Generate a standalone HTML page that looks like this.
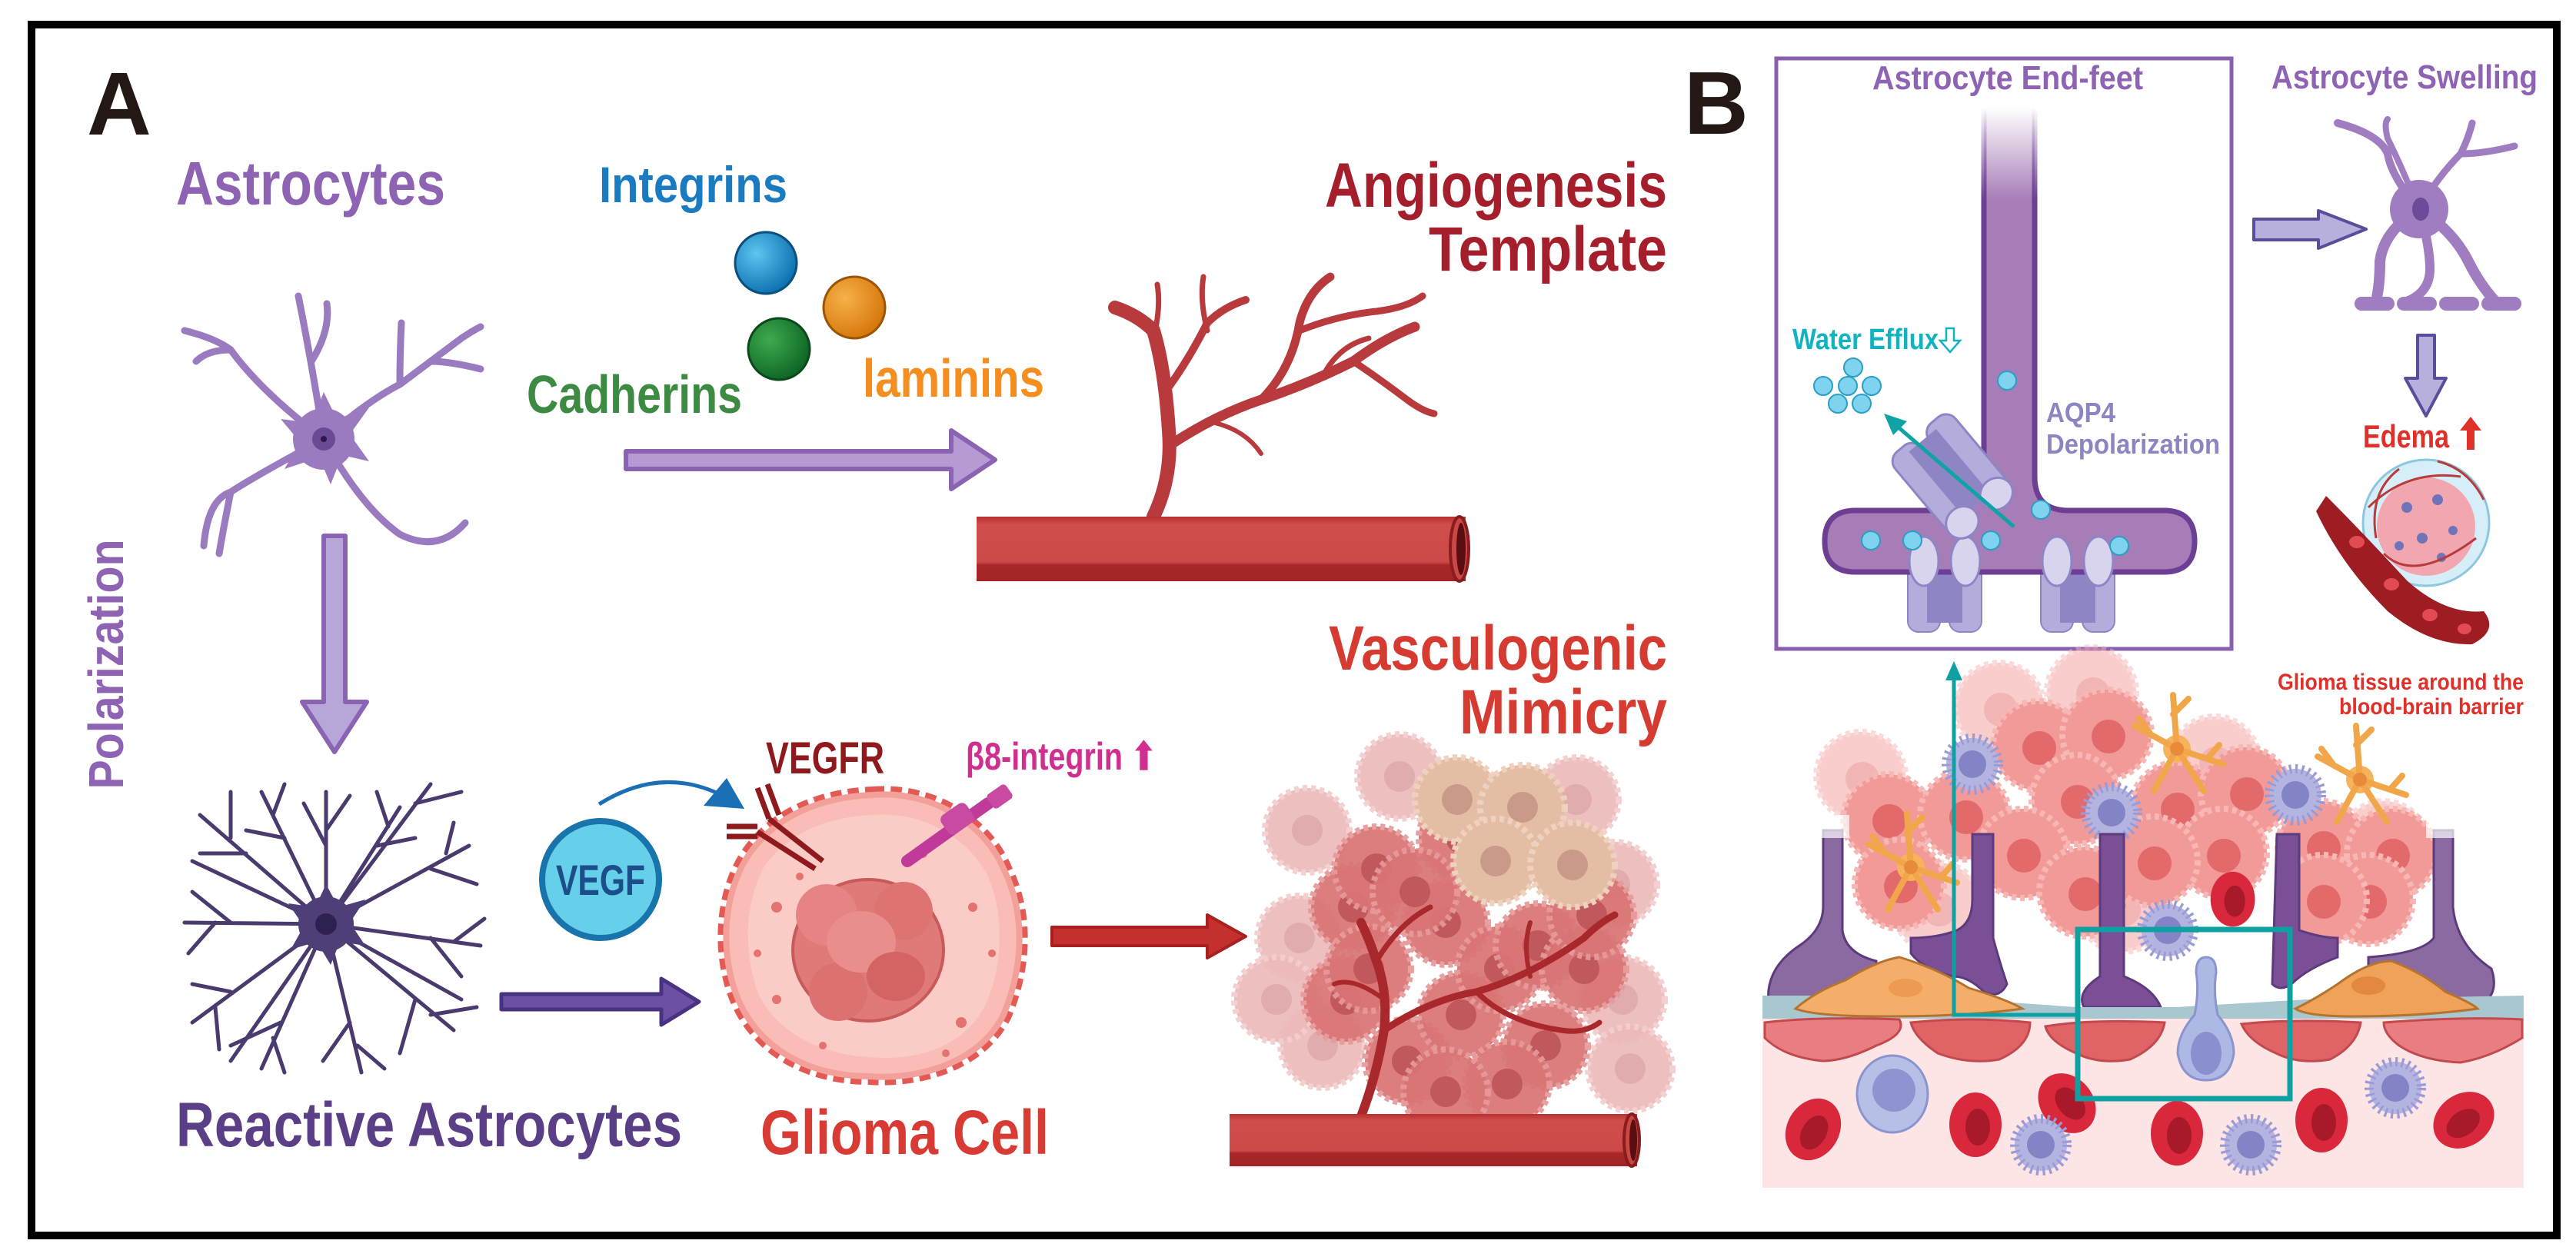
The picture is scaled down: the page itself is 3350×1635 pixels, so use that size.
<!DOCTYPE html>
<html><head><meta charset="utf-8"><style>
html,body{margin:0;padding:0;background:#fff;}
svg{display:block;}
text{font-family:"Liberation Sans Narrow","Liberation Sans",sans-serif;font-weight:bold;}
</style></head><body>
<svg width="3350" height="1635" viewBox="0 0 3350 1635" xmlns="http://www.w3.org/2000/svg">
<defs>
<linearGradient id="vessel" x1="0" y1="0" x2="0" y2="1">
<stop offset="0" stop-color="#b7302f"/><stop offset="0.12" stop-color="#cf4d4b"/><stop offset="0.7" stop-color="#cc4a48"/><stop offset="0.75" stop-color="#a8282a"/><stop offset="1" stop-color="#a32426"/>
</linearGradient>
<linearGradient id="stemfill" gradientUnits="userSpaceOnUse" x1="0" y1="140" x2="0" y2="260">
<stop offset="0" stop-color="#a77db8" stop-opacity="0"/><stop offset="1" stop-color="#a77db8"/>
</linearGradient>
<linearGradient id="stemstroke" gradientUnits="userSpaceOnUse" x1="0" y1="140" x2="0" y2="260">
<stop offset="0" stop-color="#6c3f95" stop-opacity="0"/><stop offset="1" stop-color="#6c3f95"/>
</linearGradient>
<radialGradient id="gb" cx="0.35" cy="0.35" r="0.7"><stop offset="0" stop-color="#5ec4f0"/><stop offset="1" stop-color="#0a6fae"/></radialGradient>
<radialGradient id="go" cx="0.35" cy="0.35" r="0.7"><stop offset="0" stop-color="#f7b04a"/><stop offset="1" stop-color="#d5760a"/></radialGradient>
<radialGradient id="gg" cx="0.35" cy="0.35" r="0.7"><stop offset="0" stop-color="#3eaa4e"/><stop offset="1" stop-color="#0d6424"/></radialGradient>
<g id="gcell"><circle r="58" fill="#f29a98" stroke="#f6b7b5" stroke-width="8" stroke-dasharray="6 5"/><circle r="22" cx="2" cy="3" fill="#e36a6a"/></g>
<g id="gcellb"><circle r="55" fill="#e4bea4" stroke="#eed2bf" stroke-width="8" stroke-dasharray="6 5"/><circle r="20" fill="#c99a88"/></g>
<g id="mcell"><circle r="55" fill="#d97474" stroke="#e79a9a" stroke-width="8" stroke-dasharray="6 5" opacity="0.92"/><circle r="20" fill="#c0585c"/></g>
<g id="spiky"><circle r="34" fill="#b3b4e0" stroke="#9a9bd6" stroke-width="12" stroke-dasharray="3 5"/><circle r="18" fill="#8284c6"/></g>
<g id="rbc"><ellipse rx="34" ry="42" fill="#d9283c"/><ellipse rx="16" ry="24" cx="3" cy="3" fill="#a81a2a"/></g>
<g id="ast"><circle r="18" fill="#f7b35c"/><path d="M0,0 L-5,-70 M-5,-45 L15,-65 M0,0 L60,20 M40,12 L55,-5 M0,0 L-55,-30 M-35,-20 L-50,-40 M0,0 L-30,55 M0,0 L35,55" stroke="#f2a64a" stroke-width="8" fill="none" stroke-linecap="round"/><circle r="9" fill="#e88a3a"/></g>
</defs>

<rect x="0" y="0" width="3350" height="1635" fill="#fff"/>
<rect x="41" y="32" width="3284" height="1575" fill="none" stroke="#000" stroke-width="10"/>

<!-- ================= PANEL A ================= -->
<text x="113" y="175" font-size="116" fill="#231815" style="font-family:'Liberation Sans',sans-serif">A</text>
<text x="229" y="266" font-size="80" fill="#8f63b3" textLength="350" lengthAdjust="spacingAndGlyphs">Astrocytes</text>
<text x="779" y="263" font-size="66" fill="#1b7bc0" textLength="245" lengthAdjust="spacingAndGlyphs">Integrins</text>
<text x="685" y="537" font-size="70" fill="#3d8a43" textLength="280" lengthAdjust="spacingAndGlyphs">Cadherins</text>
<text x="1122" y="516" font-size="70" fill="#f58d1f" textLength="236" lengthAdjust="spacingAndGlyphs">laminins</text>
<circle cx="996" cy="342" r="40" fill="url(#gb)" stroke="#0b4f7c" stroke-width="3"/>
<circle cx="1111" cy="400" r="40" fill="url(#go)" stroke="#9a5505" stroke-width="3"/>
<circle cx="1013" cy="454" r="40" fill="url(#gg)" stroke="#0a4a1a" stroke-width="3"/>

<text x="2168" y="269" font-size="82" fill="#a41e2c" text-anchor="end" textLength="445" lengthAdjust="spacingAndGlyphs">Angiogenesis</text>
<text x="2168" y="352" font-size="82" fill="#a41e2c" text-anchor="end" textLength="310" lengthAdjust="spacingAndGlyphs">Template</text>

<path d="M814,587 L1237,587 L1237,560 L1294,598 L1237,636 L1237,610 L814,610 Z" fill="#b59ad3" stroke="#8a64b2" stroke-width="6" stroke-linejoin="round"/>

<!-- astrocyte -->
<g stroke="#9b7bc0" fill="none" stroke-linecap="round">
<path d="M421,571 Q405,470 388,385 M405,470 Q430,430 425,395 M421,571 Q340,510 300,455 Q280,440 240,430 M300,455 Q270,455 255,470 M421,571 Q480,520 520,500 Q560,470 600,440 Q615,430 625,425 M560,470 Q585,470 625,480 M520,500 Q520,460 522,420 M421,571 Q330,620 300,640 Q270,650 265,710 M300,640 Q290,690 285,720 M421,571 Q470,660 520,695 Q570,720 605,680" stroke-width="9"/>
</g>
<path d="M421,510 L438,545 L480,530 L455,565 L480,600 L445,592 L430,630 L415,595 L370,610 L390,575 L365,545 L405,550 Z" fill="#9b7bc0"/>
<circle cx="421" cy="571" r="40" fill="#9b7bc0"/>
<circle cx="421" cy="571" r="15" fill="#6a4a95"/><circle cx="421" cy="571" r="4" fill="#2a1a45"/>

<path d="M421,697 L449,697 L449,913 L477,913 L435,978 L393,913 L421,913 Z" fill="#b7a6d8" stroke="#8a64b2" stroke-width="6" stroke-linejoin="round"/>

<text transform="translate(160,864) rotate(-90)" font-size="64" fill="#8f63b3" text-anchor="middle" textLength="325" lengthAdjust="spacingAndGlyphs" style="font-family:'Liberation Sans',sans-serif">Polarization</text>

<!-- reactive astrocyte -->
<g stroke="#4a3a6e" fill="none" stroke-width="5" stroke-linecap="round">
<path d="M424,1202 L424,1030 M424,1100 L395,1045 M424,1080 L455,1035"/>
<path d="M424,1202 L520,1050 M490,1100 L540,1090 M505,1075 L490,1030"/>
<path d="M424,1202 L610,1100 M560,1130 L620,1150 M580,1110 L590,1070"/>
<path d="M424,1202 L625,1230 M560,1220 L600,1270 M590,1225 L630,1195"/>
<path d="M424,1202 L590,1340 M540,1300 L520,1370 M560,1320 L620,1310"/>
<path d="M424,1202 L470,1395 M455,1330 L420,1380 M465,1360 L500,1390"/>
<path d="M424,1202 L340,1390 M365,1330 L300,1360 M355,1350 L370,1395"/>
<path d="M424,1202 L250,1330 M300,1290 L250,1280 M280,1310 L285,1365"/>
<path d="M424,1202 L240,1200 M300,1200 L250,1160 M280,1200 L245,1240"/>
<path d="M424,1202 L260,1060 M320,1110 L260,1110 M300,1090 L300,1030"/>
<path d="M424,1202 L340,1030 M370,1090 L320,1080 M355,1060 L370,1020"/>
<path d="M424,1202 L560,1020 M540,1045 L600,1030"/>
<path d="M424,1202 L600,1300 M424,1202 L250,1120 M424,1202 L300,1380"/>
</g>
<path d="M424,1150 L440,1180 L475,1170 L455,1200 L475,1230 L442,1225 L430,1255 L412,1225 L378,1235 L395,1205 L375,1175 L410,1180 Z" fill="#4f3f78"/>
<circle cx="424" cy="1202" r="36" fill="#4f3f78"/>
<circle cx="424" cy="1202" r="14" fill="#2d2150"/>

<text x="229" y="1491" font-size="82" fill="#5a3e86" textLength="658" lengthAdjust="spacingAndGlyphs">Reactive Astrocytes</text>

<path d="M652,1293 L860,1293 L860,1273 L909,1303 L860,1333 L860,1313 L652,1313 Z" fill="#6b50a3" stroke="#4a3282" stroke-width="5" stroke-linejoin="round"/>

<circle cx="781" cy="1144" r="76" fill="#66cfe9" stroke="#1874aa" stroke-width="8"/>
<text x="781" y="1164" font-size="56" fill="#1c4f8a" text-anchor="middle" textLength="116" lengthAdjust="spacingAndGlyphs">VEGF</text>
<path d="M779,1046 Q860,995 940,1035" fill="none" stroke="#1b6fb5" stroke-width="5"/>
<path d="M915,1048 L968,1052 L945,1012 Z" fill="#1b6fb5"/>

<text x="996" y="1006" font-size="58" fill="#8e1a1e" textLength="154" lengthAdjust="spacingAndGlyphs">VEGFR</text>
<text x="1256" y="1001" font-size="50" fill="#d02f8f" textLength="248" lengthAdjust="spacingAndGlyphs">β8-integrin ⬆</text>

<!-- glioma cell -->
<path d="M1136,1034 C1210,1028 1280,1070 1305,1130 C1335,1190 1330,1260 1305,1320 C1275,1380 1200,1405 1130,1400 C1060,1400 990,1370 960,1300 C935,1240 940,1160 975,1110 C1010,1060 1070,1036 1136,1034 Z" fill="#f7aaa6" stroke="#e35a55" stroke-width="22" stroke-dasharray="14 8" stroke-linejoin="round"/>
<path d="M1136,1034 C1210,1028 1280,1070 1305,1130 C1335,1190 1330,1260 1305,1320 C1275,1380 1200,1405 1130,1400 C1060,1400 990,1370 960,1300 C935,1240 940,1160 975,1110 C1010,1060 1070,1036 1136,1034 Z" fill="#f9bcb7" stroke="#f3a09b" stroke-width="8"/>
<path d="M1136,1060 C1200,1055 1260,1090 1285,1140 C1310,1200 1300,1270 1280,1310 C1250,1365 1190,1380 1130,1375 C1070,1372 1010,1345 985,1290 C965,1230 970,1170 995,1125 C1030,1080 1080,1062 1136,1060 Z" fill="#fbcbc6"/>
<ellipse cx="1129" cy="1236" rx="98" ry="92" fill="#e07a78" stroke="#c85a5a" stroke-width="4"/>
<circle cx="1075" cy="1190" r="40" fill="#e58482"/><circle cx="1175" cy="1185" r="38" fill="#de7472"/><circle cx="1090" cy="1290" r="38" fill="#dc7270"/>
<ellipse cx="1120" cy="1225" rx="45" ry="40" fill="#ea8e8c"/>
<ellipse cx="1165" cy="1270" rx="38" ry="32" fill="#d46464"/>
<g fill="#e47270">
<circle cx="1010" cy="1180" r="7"/><circle cx="1040" cy="1140" r="5"/><circle cx="1265" cy="1180" r="6"/><circle cx="1250" cy="1330" r="7"/><circle cx="1010" cy="1300" r="6"/><circle cx="1070" cy="1360" r="5"/><circle cx="1200" cy="1110" r="6"/><circle cx="1290" cy="1240" r="5"/><circle cx="985" cy="1240" r="5"/><circle cx="1230" cy="1370" r="5"/>
</g>
<g stroke="#8e1a1e" stroke-width="7" fill="none">
<path d="M985,1025 L1000,1065 M998,1020 L1013,1060"/>
<path d="M945,1075 L985,1075 M945,1088 L985,1088"/>
<path d="M1000,1065 L1070,1120 M985,1082 L1060,1130"/>
</g>
<g stroke="#bf3a99" stroke-width="16" stroke-linecap="round"><path d="M1180,1120 L1285,1045"/></g>
<rect x="1225" y="1050" width="40" height="30" rx="8" fill="#c94aa2" transform="rotate(-35 1245 1065)"/>
<rect x="1285" y="1025" width="30" height="22" rx="5" fill="#c94aa2" transform="rotate(-35 1300 1036)"/>

<text x="989" y="1501" font-size="82" fill="#d83b33" textLength="375" lengthAdjust="spacingAndGlyphs">Glioma Cell</text>

<path d="M1368,1206 L1570,1206 L1570,1190 L1620,1218 L1570,1246 L1570,1230 L1368,1230 Z" fill="#c4302d" stroke="#a8201f" stroke-width="4" stroke-linejoin="round"/>

<text x="2168" y="871" font-size="82" fill="#d63b32" text-anchor="end" textLength="440" lengthAdjust="spacingAndGlyphs">Vasculogenic</text>
<text x="2168" y="954" font-size="82" fill="#d63b32" text-anchor="end" textLength="270" lengthAdjust="spacingAndGlyphs">Mimicry</text>

<g stroke="#b83a3c" fill="none" stroke-linecap="round">
<path d="M1500,672 Q1525,620 1520,560 Q1515,480 1500,430 Q1480,410 1450,400" stroke-width="18"/>
<path d="M1520,580 Q1580,540 1640,520 Q1700,500 1760,470 Q1800,440 1840,425" stroke-width="13"/>
<path d="M1640,520 Q1680,480 1690,420 Q1700,380 1730,360" stroke-width="11"/>
<path d="M1690,430 Q1740,410 1790,405 Q1830,400 1850,385" stroke-width="9"/>
<path d="M1760,470 Q1790,490 1830,520 Q1850,535 1865,538" stroke-width="9"/>
<path d="M1720,490 Q1740,450 1780,440" stroke-width="7"/>
<path d="M1515,510 Q1545,470 1570,420 Q1590,400 1620,390" stroke-width="10"/>
<path d="M1570,430 Q1560,390 1565,360" stroke-width="7"/>
<path d="M1500,440 Q1510,400 1505,370" stroke-width="7"/>
<path d="M1580,550 Q1620,560 1640,590" stroke-width="6"/>
</g>
<rect x="1270" y="672" width="636" height="84" fill="url(#vessel)"/>
<ellipse cx="1898" cy="714" rx="12" ry="42" fill="#c94846" stroke="#8a1c1e" stroke-width="4"/>
<ellipse cx="1900" cy="714" rx="6" ry="34" fill="#5a0e12"/>

<!-- mimicry cluster -->
<g opacity="0.5">
<use href="#mcell" x="1700" y="1080"/><use href="#mcell" x="1690" y="1220"/><use href="#mcell" x="1720" y="1360"/><use href="#mcell" x="2100" y="1150"/><use href="#mcell" x="2110" y="1300"/><use href="#mcell" x="1820" y="1010"/><use href="#mcell" x="2050" y="1040"/><use href="#mcell" x="1660" y="1300"/><use href="#mcell" x="2120" y="1390"/>
</g>
<use href="#mcell" x="1760" y="1180"/><use href="#mcell" x="1790" y="1130"/><use href="#mcell" x="1750" y="1300"/><use href="#mcell" x="1780" y="1260"/><use href="#mcell" x="1830" y="1380"/><use href="#mcell" x="1900" y="1090"/><use href="#mcell" x="1880" y="1200"/><use href="#mcell" x="1840" y="1160"/><use href="#mcell" x="1900" y="1320"/><use href="#mcell" x="1950" y="1260"/><use href="#mcell" x="2000" y="1230"/><use href="#mcell" x="2010" y="1360"/><use href="#mcell" x="2060" y="1260"/><use href="#mcell" x="1960" y="1410"/><use href="#mcell" x="2070" y="1190"/><use href="#mcell" x="1880" y="1420"/>
<use href="#gcellb" x="1895" y="1040"/><use href="#gcellb" x="1980" y="1050"/><use href="#gcellb" x="1945" y="1120"/><use href="#gcellb" x="2045" y="1125"/>
<g stroke="#a8282c" fill="none" stroke-linecap="round">
<path d="M1770,1452 Q1790,1400 1800,1340 Q1805,1290 1790,1250 Q1780,1220 1770,1200" stroke-width="12"/>
<path d="M1800,1340 Q1860,1300 1920,1290 Q1990,1270 2060,1220 Q2080,1200 2100,1190" stroke-width="9"/>
<path d="M1920,1290 Q1960,1330 2030,1340 Q2060,1345 2080,1330" stroke-width="7"/>
<path d="M1790,1250 Q1820,1200 1860,1180" stroke-width="7"/>
<path d="M1800,1300 Q1760,1270 1735,1280" stroke-width="6"/>
<path d="M1990,1270 Q1980,1230 1990,1200" stroke-width="6"/>
</g>
<rect x="1599" y="1449" width="530" height="68" fill="url(#vessel)"/>
<ellipse cx="2122" cy="1483" rx="10" ry="34" fill="#c94846" stroke="#8a1c1e" stroke-width="4"/>
<ellipse cx="2124" cy="1483" rx="5" ry="27" fill="#5a0e12"/>

<!-- ================= PANEL B ================= -->
<text x="2190" y="174" font-size="116" fill="#231815" style="font-family:'Liberation Sans',sans-serif">B</text>
<rect x="2310" y="76" width="592" height="768" fill="none" stroke="#8a5fb0" stroke-width="5"/>
<text x="2611" y="116" font-size="44" fill="#8f63b3" text-anchor="middle" textLength="352" lengthAdjust="spacingAndGlyphs">Astrocyte End-feet</text>
<text x="3127" y="115" font-size="44" fill="#8f63b3" text-anchor="middle" textLength="346" lengthAdjust="spacingAndGlyphs">Astrocyte Swelling</text>

<g>
<rect x="2481" y="722" width="42" height="100" rx="14" fill="#b4addb" stroke="#8e86c4" stroke-width="2"/>
<rect x="2535" y="722" width="42" height="100" rx="14" fill="#b4addb" stroke="#8e86c4" stroke-width="2"/>
<rect x="2506" y="725" width="46" height="85" fill="#8e86c4"/>
<rect x="2654" y="722" width="42" height="100" rx="14" fill="#b4addb" stroke="#8e86c4" stroke-width="2"/>
<rect x="2708" y="722" width="42" height="100" rx="14" fill="#b4addb" stroke="#8e86c4" stroke-width="2"/>
<rect x="2679" y="725" width="46" height="85" fill="#8e86c4"/>
</g>
<path d="M2580,140 L2580,620 Q2580,664 2536,664 L2413,664 Q2373,664 2373,704 Q2373,744 2413,744 L2814,744 Q2854,744 2854,704 Q2854,664 2814,664 L2690,664 Q2646,664 2646,620 L2646,140" fill="url(#stemfill)" stroke="url(#stemstroke)" stroke-width="7"/>
<ellipse cx="2502" cy="730" rx="19" ry="32" fill="#d8d4ee" stroke="#8e86c4" stroke-width="3"/>
<ellipse cx="2556" cy="730" rx="19" ry="32" fill="#d8d4ee" stroke="#8e86c4" stroke-width="3"/>
<ellipse cx="2675" cy="730" rx="19" ry="32" fill="#d8d4ee" stroke="#8e86c4" stroke-width="3"/>
<ellipse cx="2729" cy="730" rx="19" ry="32" fill="#d8d4ee" stroke="#8e86c4" stroke-width="3"/>
<g transform="rotate(-40 2545 620)">
<rect x="2490" y="545" width="44" height="130" rx="16" fill="#b4addb" stroke="#8e86c4" stroke-width="3"/>
<rect x="2548" y="545" width="44" height="130" rx="16" fill="#b4addb" stroke="#8e86c4" stroke-width="3"/>
<rect x="2518" y="555" width="46" height="110" fill="#8e86c4"/>
<ellipse cx="2512" cy="670" rx="22" ry="20" fill="#d8d4ee" stroke="#8e86c4" stroke-width="3"/>
<ellipse cx="2570" cy="670" rx="22" ry="20" fill="#d8d4ee" stroke="#8e86c4" stroke-width="3"/>
</g>
<g fill="#7fd3ee" stroke="#2a9fc4" stroke-width="2">
<circle cx="2610" cy="495" r="12"/><circle cx="2654" cy="663" r="12"/><circle cx="2433" cy="703" r="12"/><circle cx="2487" cy="703" r="12"/><circle cx="2589" cy="703" r="12"/><circle cx="2756" cy="710" r="12"/>
<circle cx="2410" cy="478" r="12"/><circle cx="2371" cy="502" r="12"/><circle cx="2403" cy="502" r="12"/><circle cx="2434" cy="502" r="12"/><circle cx="2390" cy="525" r="12"/><circle cx="2421" cy="525" r="12"/>
</g>
<text x="2331" y="454" font-size="38" fill="#12b3c0" textLength="190" lengthAdjust="spacingAndGlyphs">Water Efflux</text>
<path d="M2531,427 L2541,427 L2541,443 L2549,443 L2536,458 L2523,443 L2531,443 Z" fill="none" stroke="#12b3c0" stroke-width="2.5"/>
<path d="M2619,685 L2462,550" stroke="#10a3a6" stroke-width="5"/>
<path d="M2450,538 L2480,548 L2462,566 Z" fill="#10a3a6"/>
<text x="2661" y="549" font-size="36" fill="#8b86c2" textLength="90" lengthAdjust="spacingAndGlyphs">AQP4</text>
<text x="2661" y="590" font-size="36" fill="#8b86c2" textLength="226" lengthAdjust="spacingAndGlyphs">Depolarization</text>

<path d="M2931,285 L3015,285 L3015,274 L3077,298 L3015,323 L3015,312 L2931,312 Z" fill="#b7b0dc" stroke="#5c4c9a" stroke-width="4" stroke-linejoin="round"/>
<g stroke="#a07cc0" fill="none" stroke-linecap="round">
<path d="M3146,272 Q3110,230 3105,200 Q3095,175 3040,160" stroke-width="10"/>
<path d="M3146,272 Q3120,210 3105,180 Q3100,160 3105,155" stroke-width="8"/>
<path d="M3146,272 Q3170,230 3200,200 Q3210,180 3215,160 M3200,200 Q3230,200 3270,190" stroke-width="9"/>
<path d="M3146,272 Q3100,300 3095,340 Q3095,370 3090,392" stroke-width="14"/>
<path d="M3146,272 Q3160,320 3160,350 Q3160,380 3130,392" stroke-width="12"/>
<path d="M3146,272 Q3190,300 3210,340 Q3225,370 3245,392" stroke-width="14"/>
</g>
<circle cx="3146" cy="272" r="38" fill="#a07cc0"/>
<ellipse cx="3148" cy="272" rx="11" ry="15" fill="#6d4a9a"/>
<g fill="#a07cc0"><rect x="3062" y="386" width="52" height="18" rx="9"/><rect x="3117" y="386" width="52" height="18" rx="9"/><rect x="3172" y="386" width="52" height="18" rx="9"/><rect x="3227" y="386" width="52" height="18" rx="9"/></g>
<path d="M3144,436 L3166,436 L3166,492 L3181,492 L3155,541 L3128,492 L3144,492 Z" fill="#b7b0dc" stroke="#5c4c9a" stroke-width="4" stroke-linejoin="round"/>
<text x="3073" y="582" font-size="42" fill="#e0302a" textLength="112" lengthAdjust="spacingAndGlyphs">Edema</text>
<path d="M3208,585 L3208,560 L3199,560 L3213,542 L3227,560 L3218,560 L3218,585 Z" fill="#e0302a"/>
<circle cx="3155" cy="680" r="82" fill="#d6eef7" stroke="#8cc6e0" stroke-width="3"/>
<circle cx="3155" cy="685" r="64" fill="#f2a7b0"/>
<g fill="#6f74b8"><circle cx="3130" cy="660" r="7"/><circle cx="3170" cy="650" r="7"/><circle cx="3150" cy="700" r="7"/><circle cx="3190" cy="690" r="6"/><circle cx="3120" cy="710" r="6"/><circle cx="3175" cy="725" r="6"/></g>
<g stroke="#b83a3c" stroke-width="3" fill="none"><path d="M3080,660 Q3130,610 3200,620 M3100,720 Q3140,760 3220,700 M3090,700 Q3080,640 3120,610 M3230,650 Q3210,610 3170,600"/></g>
<path d="M3025,645 Q3070,690 3130,755 Q3180,800 3230,795 Q3250,820 3215,838 Q3160,840 3105,795 Q3045,735 3012,665 Z" fill="#9d1d22"/>
<g fill="#e34b54"><ellipse cx="3065" cy="705" rx="10" ry="8"/><ellipse cx="3110" cy="760" rx="10" ry="8"/><ellipse cx="3160" cy="800" rx="10" ry="8"/><ellipse cx="3205" cy="818" rx="9" ry="7"/></g>

<!-- bottom tissue -->
<rect x="2292" y="1320" width="990" height="225" fill="#fde5e5"/>
<g opacity="0.5"><use href="#gcell" x="2420" y="1010"/><use href="#gcell" x="2600" y="920"/><use href="#gcell" x="2720" y="900"/><use href="#gcell" x="2880" y="990"/><use href="#gcell" x="3100" y="1100"/><use href="#gcell" x="2520" y="1180"/><use href="#gcell" x="2760" y="1180"/></g>
<use href="#gcell" x="2455" y="1065"/><use href="#gcell" x="2555" y="1060"/><use href="#gcell" x="2470" y="1150"/>
<use href="#gcell" x="2650" y="970"/><use href="#gcell" x="2740" y="955"/><use href="#gcell" x="2700" y="1040"/><use href="#gcell" x="2630" y="1110"/><use href="#gcell" x="2710" y="1160"/>
<use href="#gcell" x="2830" y="1050"/><use href="#gcell" x="2920" y="1030"/><use href="#gcell" x="2890" y="1110"/><use href="#gcell" x="2800" y="1120"/>
<use href="#gcell" x="3020" y="1100"/><use href="#gcell" x="3110" y="1110"/><use href="#gcell" x="3080" y="1170"/><use href="#gcell" x="3020" y="1170"/>
<use href="#ast" x="2831" y="974"/><use href="#ast" x="3069" y="1014"/><use href="#ast" x="2485" y="1128"/>
<use href="#spiky" x="2565" y="994"/><use href="#spiky" x="2746" y="1057"/><use href="#spiky" x="2985" y="1034"/>
<g fill="#7b4f96" stroke="#5d3a7c" stroke-width="3">
<path d="M2371,1080 L2396,1080 L2396,1210 Q2400,1240 2440,1250 L2440,1280 Q2400,1300 2330,1305 L2300,1305 Q2295,1260 2340,1230 Q2370,1210 2371,1180 Z" fill="#8a6aa0"/>
<path d="M2565,1085 L2592,1085 L2592,1220 Q2600,1250 2610,1280 Q2600,1300 2580,1290 Q2560,1270 2540,1270 Q2500,1260 2485,1240 L2485,1220 Q2520,1220 2545,1210 Q2565,1200 2565,1170 Z"/>
<path d="M2731,1085 L2762,1085 L2762,1270 Q2800,1285 2810,1310 L2710,1310 Q2700,1290 2731,1270 Z"/>
<path d="M2961,1085 L2990,1085 L2990,1210 Q3020,1220 3040,1220 L3040,1245 Q3000,1260 2980,1280 Q2965,1290 2955,1280 Z"/>
<path d="M3165,1080 L3190,1080 L3190,1180 Q3195,1230 3240,1260 Q3250,1290 3230,1305 Q3180,1300 3150,1290 L3080,1260 L3080,1245 Q3150,1240 3165,1220 Z" fill="#8a6aa0"/>
</g>
<rect x="2360" y="1060" width="45" height="30" fill="#fff" opacity="0.7"/><rect x="3155" y="1060" width="45" height="30" fill="#fff" opacity="0.7"/>
<path d="M2292,1295 L2360,1295 Q2460,1290 2560,1300 L2700,1310 L2830,1310 L3000,1300 L3282,1295 L3282,1325 L2292,1325 Z" fill="#a9c7cf"/>
<path d="M2335,1312 Q2360,1290 2400,1275 Q2440,1250 2470,1245 Q2520,1260 2560,1285 Q2610,1300 2630,1312 Q2560,1322 2450,1322 Q2360,1322 2335,1312 Z" fill="#f5ae6a" stroke="#b4742f" stroke-width="3"/>
<ellipse cx="2478" cy="1285" rx="22" ry="12" fill="#ed9a52"/>
<path d="M2985,1312 Q3010,1300 3040,1280 Q3080,1250 3110,1250 Q3150,1265 3180,1290 Q3215,1305 3222,1312 Q3150,1322 3060,1322 Q3000,1322 2985,1312 Z" fill="#f0a259" stroke="#b4742f" stroke-width="3"/>
<ellipse cx="3080" cy="1282" rx="22" ry="12" fill="#e38840"/>
<g fill="#e97e80" stroke="#c24a4e" stroke-width="3">
<path d="M2295,1330 Q2360,1322 2470,1326 Q2480,1345 2440,1360 Q2400,1380 2370,1380 Q2320,1375 2295,1350 Z"/>
<path d="M2485,1330 Q2560,1322 2640,1330 Q2640,1360 2600,1378 Q2560,1385 2520,1370 Q2490,1350 2485,1330 Z" fill="#e06466"/>
<path d="M2660,1335 Q2720,1325 2815,1330 Q2810,1360 2770,1378 Q2730,1385 2700,1370 Q2665,1355 2660,1335 Z" fill="#e06466"/>
<path d="M2915,1332 Q2980,1325 3070,1330 Q3065,1360 3030,1378 Q2990,1385 2960,1370 Q2925,1355 2915,1332 Z" fill="#e06466"/>
<path d="M3100,1330 Q3200,1322 3280,1326 L3280,1350 Q3240,1375 3200,1382 Q3150,1380 3120,1360 Q3100,1345 3100,1330 Z"/>
</g>
<path d="M2869,1245 Q2882,1245 2882,1265 Q2878,1290 2884,1320 Q2905,1345 2905,1370 Q2900,1405 2869,1405 Q2838,1405 2832,1370 Q2832,1345 2854,1320 Q2860,1290 2856,1265 Q2856,1245 2869,1245 Z" fill="#aeb8e4" stroke="#8a94cf" stroke-width="3"/>
<ellipse cx="2869" cy="1370" rx="20" ry="28" fill="#8a8fcf"/>
<ellipse cx="2461" cy="1423" rx="46" ry="50" fill="#b6c0e6" stroke="#8a94cf" stroke-width="3"/>
<circle cx="2463" cy="1418" r="28" fill="#8f93cf"/>
<use href="#rbc" x="2358" y="1469" transform="rotate(30 2358 1469)"/>
<use href="#rbc" x="2569" y="1463"/>
<use href="#rbc" x="2688" y="1435" transform="rotate(-40 2688 1435)"/>
<use href="#rbc" x="2831" y="1474"/>
<use href="#rbc" x="3019" y="1457"/>
<use href="#rbc" x="3204" y="1457" transform="rotate(55 3204 1457)"/>
<use href="#rbc" x="2904" y="1170" transform="scale(0.85) translate(512 206)"/>
<use href="#spiky" x="2654" y="1489"/><use href="#spiky" x="2927" y="1489"/><use href="#spiky" x="3115" y="1415"/><use href="#spiky" x="2819" y="1210"/>
<rect x="2702" y="1209" width="276" height="220" fill="none" stroke="#0fa0a2" stroke-width="7"/>
<path d="M2702,1320 L2541,1320 L2541,880" fill="none" stroke="#0fa0a2" stroke-width="5"/>
<path d="M2530,885 L2541,860 L2552,885 Z" fill="#0fa0a2"/>
<text x="3282" y="897" font-size="30" fill="#e0302a" text-anchor="end" textLength="320" lengthAdjust="spacingAndGlyphs">Glioma tissue around the</text>
<text x="3282" y="929" font-size="30" fill="#e0302a" text-anchor="end" textLength="240" lengthAdjust="spacingAndGlyphs">blood-brain barrier</text>
</svg>
</body></html>
